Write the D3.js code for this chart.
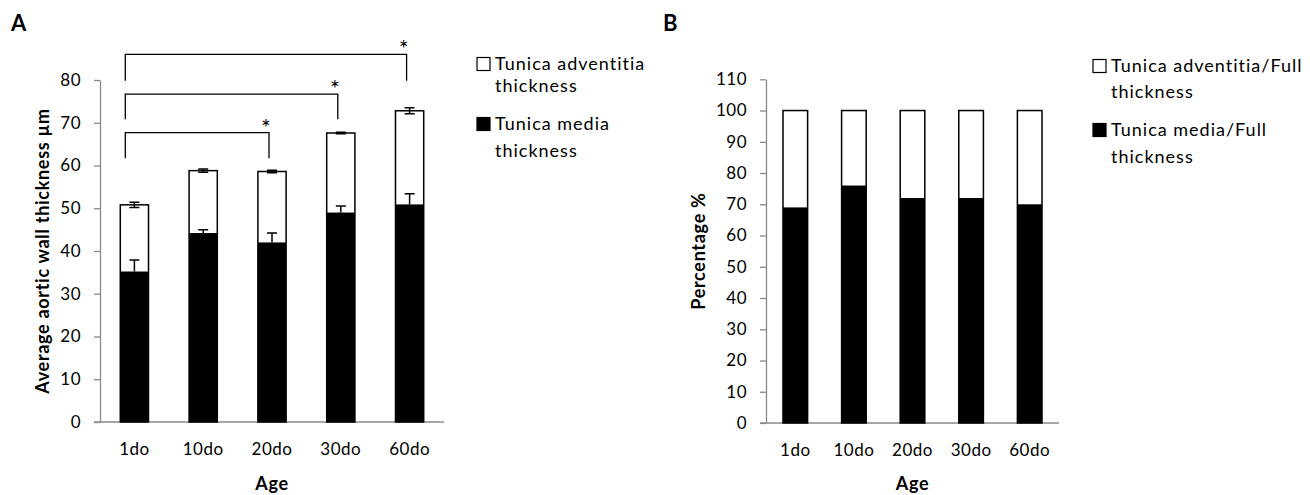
<!DOCTYPE html>
<html>
<head>
<meta charset="utf-8">
<script src="https://cdn.jsdelivr.net/npm/d3@7"></script>
<style>
  body { margin: 0; background: #fff; }
  svg text { font-family: Lato, "Open Sans", sans-serif; fill: #000; }
  .axis path, .axis line { stroke: #8a8a8a; stroke-width: 1.3; }
  .axis text { font-size: 17px; letter-spacing: 0.5px; }
  .title { font-weight: bold; font-size: 18px; letter-spacing: 0.7px; }
  .legend text { font-size: 18px; letter-spacing: 1px; }
</style>
</head>
<body>
<svg id="canvas" width="1310" height="495"></svg>
<script>
// ages on the x axis (both panels)
let ages = ["1do", "10do", "20do", "30do", "60do"];

// panel A: thickness in µm
let mediaThick = [35.2, 44.2, 42.0, 49.0, 50.9];
let mediaErr = [2.7, 0.8, 2.2, 1.5, 2.5];
let fullThick = [50.8, 58.8, 58.6, 67.6, 72.8];
let fullErr = [0.6, 0.4, 0.3, 0.2, 0.7];
let ticksA = [0, 10, 20, 30, 40, 50, 60, 70, 80];

// significance brackets of panel A (compared with 1do)
let sigTo = ["20do", "30do", "60do"];
let sigLevel = [67.7, 76.7, 86.0];
let sigFoot = [61.7, 70.8, 79.8];

// panel B: percentage of full thickness
let mediaPct = [69, 76, 72, 72, 70];
let fullPct = [100, 100, 100, 100, 100];
let ticksB = [0, 10, 20, 30, 40, 50, 60, 70, 80, 90, 100, 110];

let legendA = [["Tunica adventitia", "thickness"], ["Tunica media", "thickness"]];
let legendB = [["Tunica adventitia/Full", "thickness"], ["Tunica media/Full", "thickness"]];

let canvas = d3.select('#canvas');

let drawPanel = (opt) => {
    let g = canvas.append('g');

    let x = d3.scaleBand()
              .domain(ages)
              .range(opt.xRange)
              .paddingInner(opt.pad)
              .paddingOuter(opt.pad / 2);
    let y = d3.scaleLinear()
              .domain([0, opt.ticks[opt.ticks.length - 1]])
              .range(opt.yRange);

    // axes
    g.append('g')
     .attr('class', 'axis')
     .attr('transform', `translate(${opt.xRange[0]},0)`)
     .call(d3.axisLeft(y).tickValues(opt.ticks).tickSize(6).tickPadding(13).tickSizeOuter(0));

    g.append('g')
     .attr('class', 'axis')
     .attr('transform', `translate(0,${opt.yRange[0]})`)
     .call(d3.axisBottom(x).tickSize(0).tickPadding(21))
     .call(a => a.select('.domain').attr('d', `M${opt.xRange[0] - 6},0H${opt.xRange[1]}`));

    // upper (white) part = full thickness
    g.selectAll('rect.full')
     .data(ages)
     .enter()
     .append('rect')
     .attr('class', 'full')
     .attr('x', (d) => x(d))
     .attr('width', x.bandwidth())
     .attr('y', (d, i) => y(opt.full[i]))
     .attr('height', (d, i) => y(0) - y(opt.full[i]))
     .attr('fill', '#fff')
     .attr('stroke', '#000')
     .attr('stroke-width', 1.5);

    // media part (black)
    g.selectAll('rect.media')
     .data(ages)
     .enter()
     .append('rect')
     .attr('class', 'media')
     .attr('x', (d) => x(d))
     .attr('width', x.bandwidth())
     .attr('y', (d, i) => y(opt.media[i]))
     .attr('height', (d, i) => y(0) - y(opt.media[i]))
     .attr('fill', '#000');

    // error bars
    if (opt.fullErr) {
        ages.forEach((d, i) => {
            let cx = x(d) + x.bandwidth() / 2;
            let t = opt.full[i], e = opt.fullErr[i];
            g.append('path')
             .attr('d', `M${cx},${y(t - e)}V${y(t + e)}M${cx - 5},${y(t + e)}H${cx + 5}M${cx - 5},${y(t - e)}H${cx + 5}`)
             .attr('stroke', '#000').attr('stroke-width', 1.5).attr('fill', 'none');
            let m = opt.media[i], me = opt.mediaErr[i];
            g.append('path')
             .attr('d', `M${cx},${y(m)}V${y(m + me)}M${cx - 5},${y(m + me)}H${cx + 5}`)
             .attr('stroke', '#000').attr('stroke-width', 1.5).attr('fill', 'none');
        });
    }

    // titles
    g.append('text')
     .attr('class', 'title')
     .attr('transform', `translate(${opt.yTitleX},${(opt.yRange[0] + opt.yRange[1]) / 2}) rotate(-90)`)
     .attr('text-anchor', 'middle')
     .text(opt.yTitle);
    g.append('text')
     .attr('class', 'title')
     .attr('x', (opt.xRange[0] + opt.xRange[1]) / 2)
     .attr('y', 490)
     .attr('text-anchor', 'middle')
     .text('Age');
    g.append('text')
     .attr('x', opt.letterX)
     .attr('y', 31)
     .attr('font-size', 22)
     .attr('font-weight', 'bold')
     .text(opt.letter);

    // legend
    let lg = g.append('g').attr('class', 'legend');
    opt.legend.forEach((lines, k) => {
        let top = opt.legendY[k];
        lg.append('rect')
          .attr('x', opt.legendX)
          .attr('y', top - 6.5)
          .attr('width', 13).attr('height', 13)
          .attr('fill', k === 0 ? '#fff' : '#000')
          .attr('stroke', '#000').attr('stroke-width', 1.2);
        lines.forEach((s, j) => {
            lg.append('text')
              .attr('x', opt.legendX + 18)
              .attr('y', top + j * opt.legendGap[k])
              .attr('dy', '0.35em')
              .text(s);
        });
    });

    return {x, y, g};
};

let panelA = drawPanel({
    xRange: [100, 444], yRange: [422, 80], pad: 0.59, ticks: ticksA,
    full: fullThick, media: mediaThick, fullErr: fullErr, mediaErr: mediaErr,
    yTitle: 'Average aortic wall thickness µm', yTitleX: 49,
    letter: 'A', letterX: 11,
    legend: legendA, legendX: 477, legendY: [64, 124], legendGap: [22, 27]
});

let panelB = drawPanel({
    xRange: [766, 1059], yRange: [423, 79.3], pad: 0.58, ticks: ticksB,
    full: fullPct, media: mediaPct,
    yTitle: 'Percentage %', yTitleX: 705,
    letter: 'B', letterX: 663,
    legend: legendB, legendX: 1093, legendY: [66, 130], legendGap: [26, 27]
});

// significance brackets on panel A
let xA = panelA.x, yA = panelA.y;
sigTo.forEach((to, i) => {
    let x0 = xA(ages[0]) + 5;
    let x1 = xA(to) + xA.bandwidth() / 2 - 3;
    panelA.g.append('path')
      .attr('d', `M${x0},${yA(sigFoot[i])}V${yA(sigLevel[i])}H${x1}V${yA(sigFoot[i])}`)
      .attr('stroke', '#000').attr('stroke-width', 1.3).attr('fill', 'none');
    panelA.g.append('text')
      .attr('x', x1 - 3)
      .attr('y', yA(sigLevel[i]) + 3)
      .attr('text-anchor', 'middle')
      .attr('font-size', 23)
      .text('*');
});
</script>
</body>
</html>
